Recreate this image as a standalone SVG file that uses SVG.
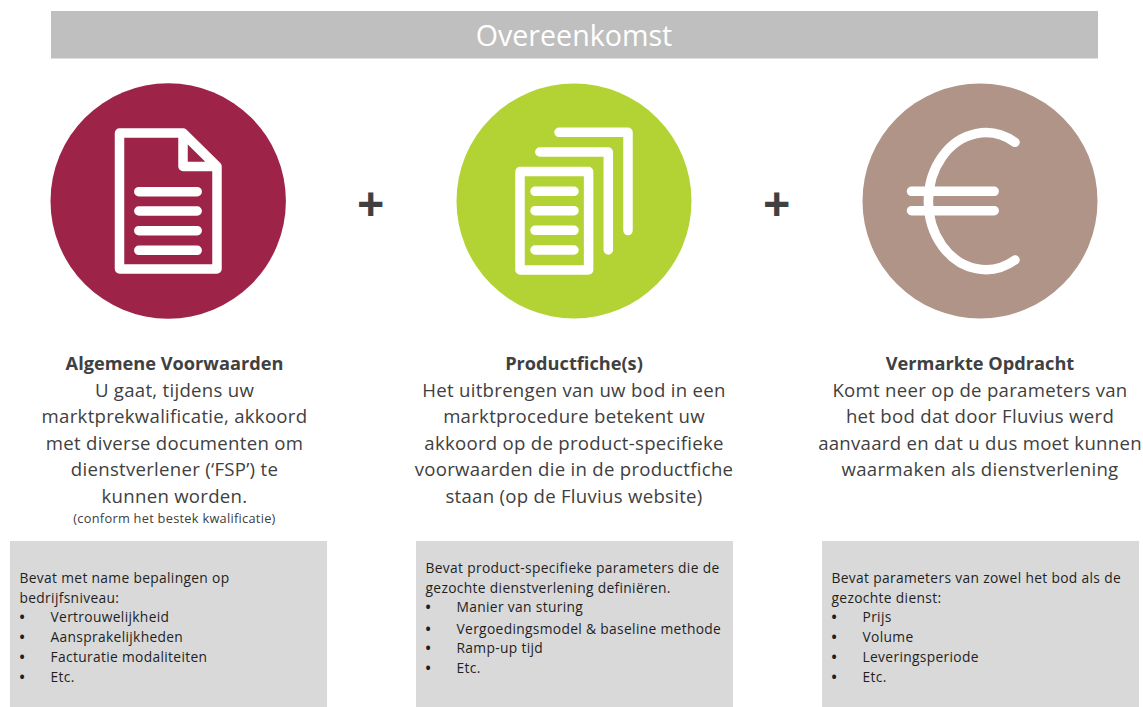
<svg xmlns="http://www.w3.org/2000/svg" width="1143" height="707" viewBox="0 0 1143 707">
<style>
text{font-family:"Open Sans","Noto Sans","Liberation Sans",sans-serif;fill:#404040}
.ic{fill:none;stroke:#fff;stroke-width:9.5;stroke-linecap:round;stroke-linejoin:round}
.title{font-size:28.6px;fill:#fff;text-anchor:middle}
.plus{font-size:48px;font-weight:700;text-anchor:middle}
.h{font-size:18.2px;font-weight:700;text-anchor:middle}
.b{font-size:18.6px;letter-spacing:.28px;text-anchor:middle}
.s{font-size:12.8px;letter-spacing:.27px;text-anchor:middle}
.box{fill:#d9d9d9}
.l{font-size:13.8px;letter-spacing:.33px;fill:#1f1f1f}
.d{font-size:13.8px;font-weight:700;fill:#1f1f1f}
</style>
<rect width="1143" height="707" fill="#fff"/>
<g id="banner"><rect x="51" y="11" width="1047" height="47.500" fill="#bfbfbf"/><text class="title" x="574" y="46">Overeenkomst</text></g>
<g id="connectors"></g>
<g id="node-voorwaarden">
<circle cx="168.200" cy="201" r="117.700" fill="#9d2349"/>
<path class="ic" d="M119.500 133H183L217 166.500V269H119.500ZM183 133V166.500H217M138.800 191.700H197.200M138.800 211H197.200M138.800 230.700H197.200M138.800 250.300H197.200"/>
<text class="h" x="174.500" y="369.700">Algemene Voorwaarden</text>
<text class="b" x="174.500" y="396.700">U gaat, tijdens uw</text>
<text class="b" x="174.500" y="423.200">marktprekwalificatie, akkoord</text>
<text class="b" x="174.500" y="449.700">met diverse documenten om</text>
<text class="b" x="174.500" y="476.200">dienstverlener (‘FSP’) te</text>
<text class="b" x="174.500" y="502.700">kunnen worden.</text>
<text class="s" x="174.500" y="522.500">(conform het bestek kwalificatie)</text>
<rect class="box" x="10" y="541" width="317" height="166"/>
<text class="l" x="19.500" y="582.700">Bevat met name bepalingen op</text>
<text class="l" x="19.500" y="602.700">bedrijfsniveau:</text>
<text class="d" x="19.500" y="622.200">•</text><text class="l" x="50.500" y="622.200">Vertrouwelijkheid</text>
<text class="d" x="19.500" y="642.200">•</text><text class="l" x="50.500" y="642.200">Aansprakelijkheden</text>
<text class="d" x="19.500" y="661.700">•</text><text class="l" x="50.500" y="661.700">Facturatie modaliteiten</text>
<text class="d" x="19.500" y="681.700">•</text><text class="l" x="50.500" y="681.700">Etc.</text>
</g>
<g id="plus-1"><text class="plus" x="370.700" y="221">+</text></g>
<g id="node-productfiche">
<circle cx="574" cy="201" r="117.500" fill="#b3d334"/>
<path class="ic" d="M520 171.500H588.600V270H520ZM535 191.300H574M535 210.700H574M535 230.300H574M535 250H574M539.800 152H608.300V250M559 132.300H628V230.600"/>
<text class="h" x="574" y="369.700">Productfiche(s)</text>
<text class="b" x="574" y="396.700">Het uitbrengen van uw bod in een</text>
<text class="b" x="574" y="423.200">marktprocedure betekent uw</text>
<text class="b" x="574" y="449.700">akkoord op de product-specifieke</text>
<text class="b" x="574" y="476.200">voorwaarden die in de productfiche</text>
<text class="b" x="574" y="502.700">staan (op de Fluvius website)</text>
<rect class="box" x="416" y="541" width="317" height="166"/>
<text class="l" x="425.500" y="572.700">Bevat product-specifieke parameters die de</text>
<text class="l" x="425.500" y="592.700">gezochte dienstverlening definiëren.</text>
<text class="d" x="425.500" y="612.200">•</text><text class="l" x="456.500" y="612.200">Manier van sturing</text>
<text class="d" x="425.500" y="633.700">•</text><text class="l" x="456.500" y="633.700">Vergoedingsmodel &amp; baseline methode</text>
<text class="d" x="425.500" y="653.200">•</text><text class="l" x="456.500" y="653.200">Ramp-up tijd</text>
<text class="d" x="425.500" y="672.700">•</text><text class="l" x="456.500" y="672.700">Etc.</text>
</g>
<g id="plus-2"><text class="plus" x="776.700" y="221">+</text></g>
<g id="node-opdracht">
<circle cx="980" cy="201" r="117.500" fill="#b09488"/>
<path class="ic" d="M1015 142.300A57.300 68.500 0 1 0 1015 260M911.500 191.300H994.200M911.500 210.700H994.200"/>
<text class="h" x="980" y="369.700">Vermarkte Opdracht</text>
<text class="b" x="980" y="396.700">Komt neer op de parameters van</text>
<text class="b" x="980" y="423.200">het bod dat door Fluvius werd</text>
<text class="b" x="980" y="449.700">aanvaard en dat u dus moet kunnen</text>
<text class="b" x="980" y="476.200">waarmaken als dienstverlening</text>
<rect class="box" x="822" y="541" width="317" height="166"/>
<text class="l" x="831.500" y="582.700">Bevat parameters van zowel het bod als de</text>
<text class="l" x="831.500" y="602.700">gezochte dienst:</text>
<text class="d" x="831.500" y="622.200">•</text><text class="l" x="862.500" y="622.200">Prijs</text>
<text class="d" x="831.500" y="642.200">•</text><text class="l" x="862.500" y="642.200">Volume</text>
<text class="d" x="831.500" y="661.700">•</text><text class="l" x="862.500" y="661.700">Leveringsperiode</text>
<text class="d" x="831.500" y="681.700">•</text><text class="l" x="862.500" y="681.700">Etc.</text>
</g>
</svg>
